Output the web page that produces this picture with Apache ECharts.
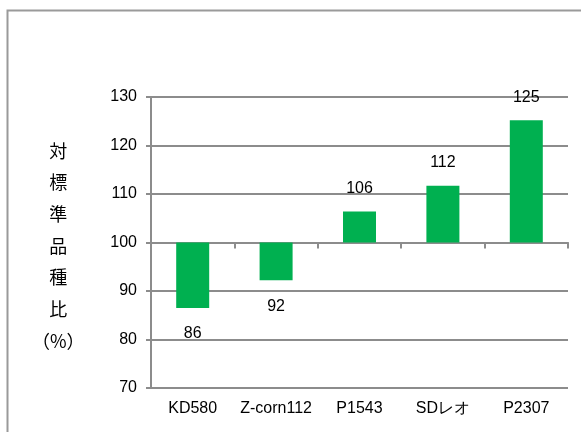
<!DOCTYPE html>
<html>
<head>
<meta charset="utf-8">
<script src="https://cdn.jsdelivr.net/npm/echarts@6/dist/echarts.min.js"></script>
<style>
html,body{margin:0;padding:0;background:#fff;}
#chart{width:581px;height:432px;}
</style>
</head>
<body>
<div id="chart"></div>
<script>
// Data
var categories = ['KD580', 'Z-corn112', 'P1543', 'SDレオ', 'P2307'];
var values = [86.5, 92.2, 106.4, 111.7, 125.2];     // ratio to standard variety (%)
var labelTexts = ['86', '92', '106', '112', '125'];
var baseline = 100;
var yTicks = [70, 80, 90, 100, 110, 120, 130];
var yTitle = '対\n標\n準\n品\n種\n比\n（%）';

var FONT = "'Liberation Sans Narrow', 'Arial Narrow', 'Liberation Sans', sans-serif";
var FS = 16;
var GRID_COLOR = '#8c8c8c';

var diffs = values.map(function (v) { return v - baseline; });
var seriesData = diffs.map(function (d, i) {
  return {
    value: d,
    label: {
      show: true,
      position: d >= 0 ? 'top' : 'bottom',
      distance: d >= 0 ? 15 : 18,
      formatter: labelTexts[i],
      color: '#000',
      fontFamily: FONT,
      fontSize: FS
    }
  };
});

var chart = echarts.init(document.getElementById('chart'), null, {renderer: 'canvas'});
chart.setOption({
  animation: false,
  backgroundColor: '#fff',
  grid: {left: 151, right: 13, top: 97, bottom: 44, containLabel: false},
  graphic: [
    {
      type: 'rect',
      shape: {x: 7.5, y: 10.5, width: 700, height: 600},
      style: {fill: 'none', stroke: '#9a9a9a', lineWidth: 2},
      silent: true, z: 0
    },
    {
      type: 'text',
      left: 32, top: 135,
      style: {
        text: yTitle,
        font: "18px 'Noto Sans CJK JP', sans-serif",
        fill: '#000',
        lineHeight: 31.7,
        textAlign: 'center',
        width: 48
      }
    }
  ],
  xAxis: [
    {
      type: 'category',
      data: categories,
      position: 'bottom',
      axisLine: {onZero: true, lineStyle: {color: GRID_COLOR, width: 2}},
      axisTick: {show: true, length: 6, lineStyle: {color: GRID_COLOR, width: 2}},
      axisLabel: {show: false},
      splitLine: {show: false}
    },
    {
      type: 'category',
      data: categories,
      position: 'bottom',
      axisLine: {show: false, onZero: false},
      axisTick: {show: false},
      axisLabel: {show: true, interval: 0, margin: 13, color: '#000', fontFamily: FONT, fontSize: FS}
    }
  ],
  yAxis: {
    type: 'value',
    min: yTicks[0] - baseline,
    max: yTicks[yTicks.length - 1] - baseline,
    interval: yTicks[1] - yTicks[0],
    axisLine: {show: true, lineStyle: {color: GRID_COLOR, width: 2}},
    axisTick: {show: true, length: 5, lineStyle: {color: GRID_COLOR, width: 2}},
    axisLabel: {
      margin: 14, color: '#000', fontFamily: FONT, fontSize: FS,
      formatter: function (v) { return String(Math.round(v + baseline)); }
    },
    splitLine: {show: true, lineStyle: {color: GRID_COLOR, width: 2}}
  },
  series: [{
    type: 'bar',
    xAxisIndex: 0,
    data: seriesData,
    barWidth: 33,
    itemStyle: {color: '#00b050'}
  }]
});
</script>
</body>
</html>
